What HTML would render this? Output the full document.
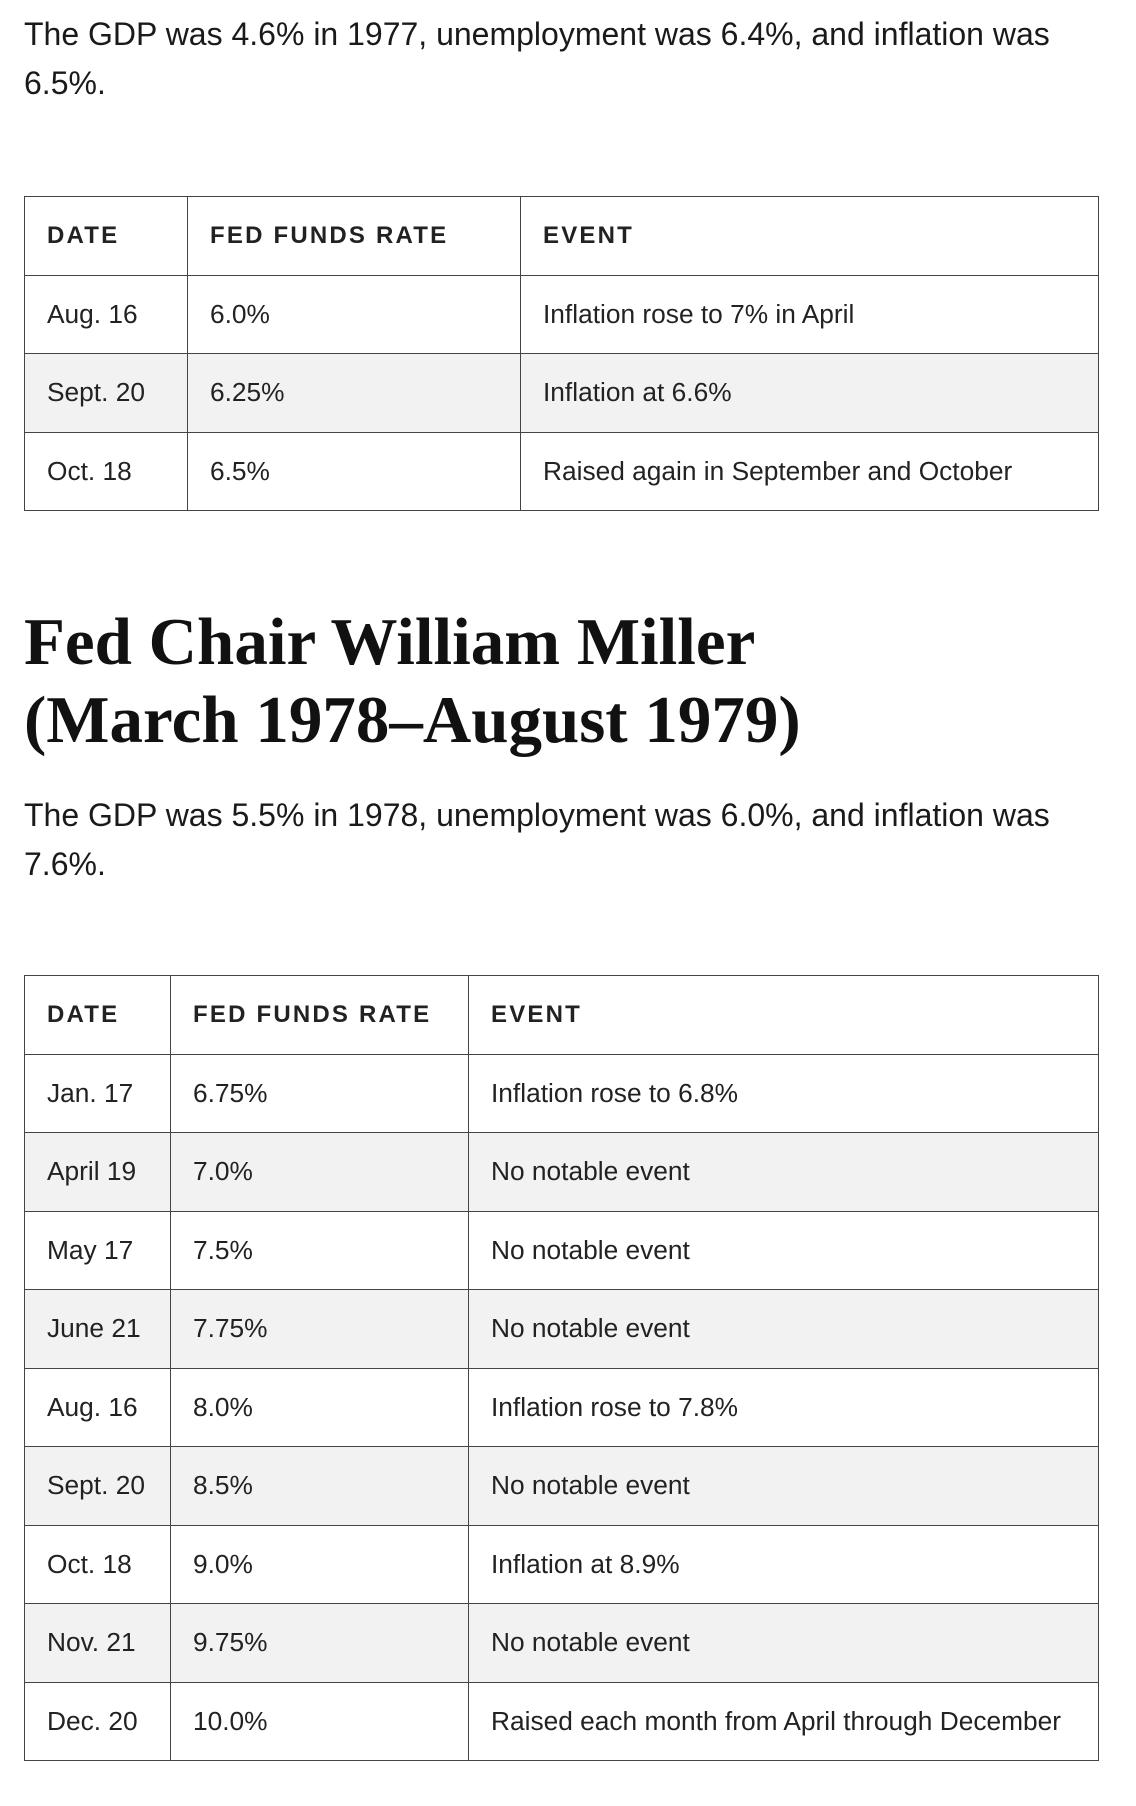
<!DOCTYPE html>
<html><head><meta charset="utf-8"><style>
body{margin:0;width:1136px;height:1806px;background:#fff;color:#1a1a1a;font-family:"Liberation Sans",sans-serif;position:relative;overflow:hidden}
p{position:absolute;left:24px;margin:0;font-size:32px;line-height:49px;width:1085px}
h2{position:absolute;left:24px;top:603px;margin:0;font-family:"Liberation Serif",serif;font-weight:bold;font-size:67px;line-height:78px;color:#111}
table{position:absolute;left:24px;width:1075px;border-collapse:collapse;table-layout:fixed}
td,th{border:1.5px solid #444;height:78.5px;padding:0 0 0 22px;text-align:left;font-size:26.3px;font-weight:normal;color:#222;box-sizing:border-box}
th{font-weight:bold;letter-spacing:2.2px;font-size:24px}
tr.s td{background:#f2f2f2}
</style></head><body>
<p style="top:10px">The GDP was 4.6% in 1977, unemployment was 6.4%, and inflation was 6.5%.</p>
<table style="top:196px">
<colgroup><col style="width:163px"><col style="width:333px"><col></colgroup>
<tr><th>DATE</th><th>FED FUNDS RATE</th><th>EVENT</th></tr>
<tr><td>Aug. 16</td><td>6.0%</td><td>Inflation rose to 7% in April</td></tr>
<tr class="s"><td>Sept. 20</td><td>6.25%</td><td>Inflation at 6.6%</td></tr>
<tr><td>Oct. 18</td><td>6.5%</td><td>Raised again in September and October</td></tr>
</table>
<h2>Fed Chair William Miller<br>(March 1978–August 1979)</h2>
<p style="top:791px">The GDP was 5.5% in 1978, unemployment was 6.0%, and inflation was 7.6%.</p>
<table style="top:975px">
<colgroup><col style="width:146px"><col style="width:298px"><col></colgroup>
<tr><th>DATE</th><th>FED FUNDS RATE</th><th>EVENT</th></tr>
<tr><td>Jan. 17</td><td>6.75%</td><td>Inflation rose to 6.8%</td></tr>
<tr class="s"><td>April 19</td><td>7.0%</td><td>No notable event</td></tr>
<tr><td>May 17</td><td>7.5%</td><td>No notable event</td></tr>
<tr class="s"><td>June 21</td><td>7.75%</td><td>No notable event</td></tr>
<tr><td>Aug. 16</td><td>8.0%</td><td>Inflation rose to 7.8%</td></tr>
<tr class="s"><td>Sept. 20</td><td>8.5%</td><td>No notable event</td></tr>
<tr><td>Oct. 18</td><td>9.0%</td><td>Inflation at 8.9%</td></tr>
<tr class="s"><td>Nov. 21</td><td>9.75%</td><td>No notable event</td></tr>
<tr><td>Dec. 20</td><td>10.0%</td><td>Raised each month from April through December</td></tr>
</table>
</body></html>
